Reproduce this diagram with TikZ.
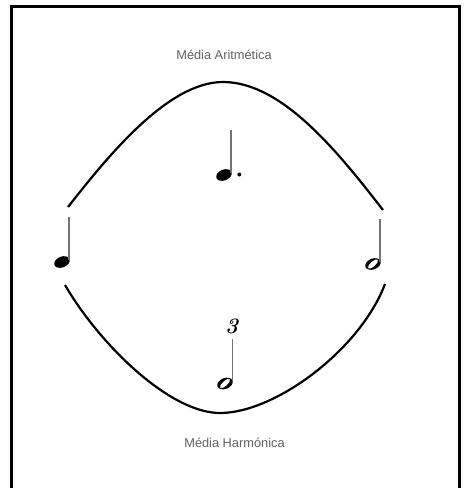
\documentclass[tikz,border=0pt]{standalone}
\usepackage{fontspec}
\newfontfamily\helv{Liberation Sans}
\begin{document}
\begin{tikzpicture}[x=1pt,y=-1pt,
  curve/.style={line width=2.2pt, black},
  stem/.style={line width=1.3pt, black!55},
  lbl/.style={text=black!62, font=\helv\fontsize{12.8}{15}\selectfont, inner sep=0pt},
  frame/.style={line width=3pt, black},
  qhead/.pic={\fill[rotate=22] (0,0) ellipse [x radius=8.1, y radius=5.4];},
  hhead/.pic={\fill[even odd rule, rotate=22] (0,0) ellipse [x radius=8.1, y radius=5.4] [rotate=20] (0,0) ellipse [x radius=6.5, y radius=2.5];}]
\useasboundingbox (0,0) rectangle (466,488);
\draw[frame] (11,500) -- (11,6) -- (459,6) -- (459,500);
% labels
\node[lbl] (arit) at (224,55) {Média Aritmética};
\node[lbl] (harm) at (234.5,443) {Média Harmónica};
% curves
\coordinate (a1) at (68,207);
\coordinate (a2) at (223,82);
\coordinate (a3) at (383,210);
\coordinate (h1) at (65,285);
\coordinate (h2) at (220,413);
\coordinate (h3) at (385,284);
\draw[curve] (a1) .. controls (108,156) and (168,82) .. (a2) .. controls (282,82) and (338,152) .. (a3);
\draw[curve] (h1) .. controls (100,345) and (170,413) .. (h2) .. controls (275,413) and (360,350) .. (h3);
% top dotted quarter
\pic at (224,175) {qhead};
\draw[stem] (231,130) -- (231,173);
\fill (239.3,174.5) circle (2);
% left quarter
\pic at (62,262) {qhead};
\draw[stem] (69,217) -- (69,260);
% right half
\pic at (373,264) {hhead};
\draw[stem] (380,219) -- (380,262);
% bottom half with triplet 3
\pic at (225,383.5) {hhead};
\draw[stem] (232.3,339) -- (232.3,381);
\node[font=\fontsize{22}{26}\selectfont\bfseries\itshape, inner sep=0pt] (three) at (231.7,326.5) {3};
\end{tikzpicture}
\end{document}
